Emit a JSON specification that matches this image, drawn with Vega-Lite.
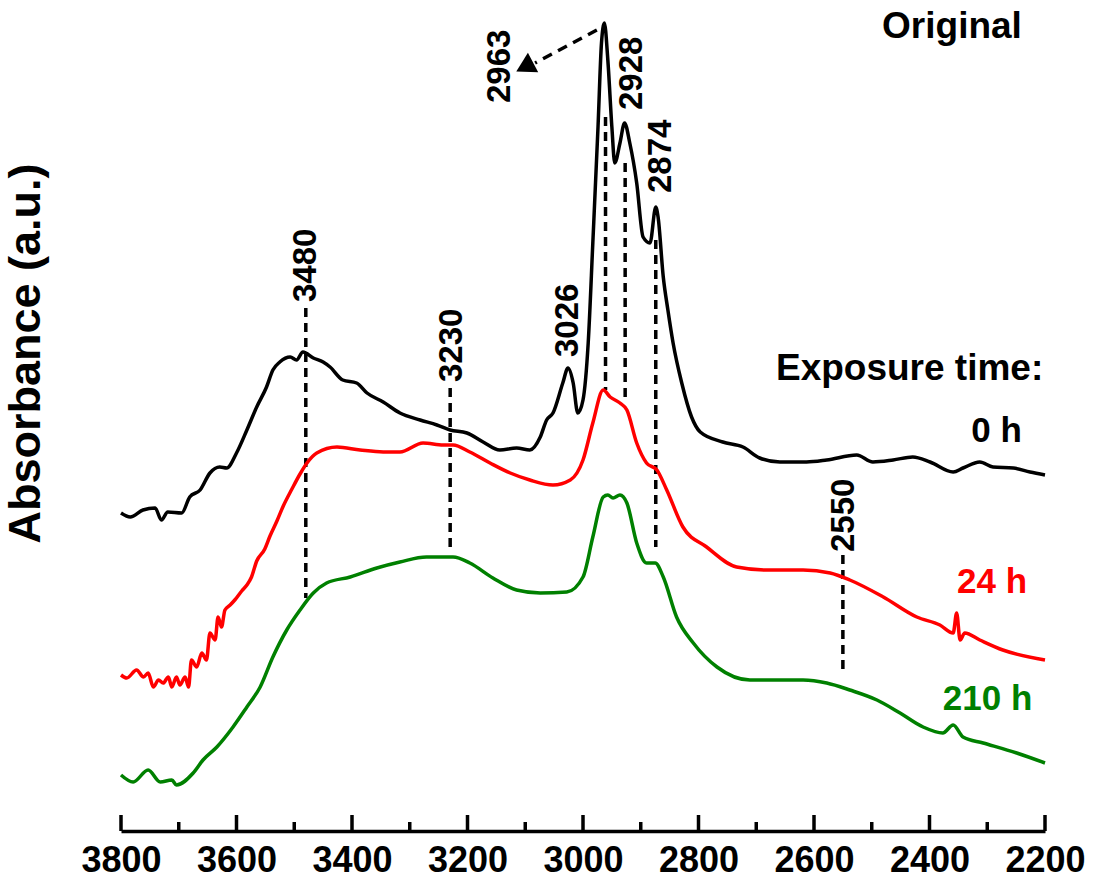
{
  "$schema": "https://vega.github.io/schema/vega-lite/v6.json",
  "width": 924,
  "height": 821,
  "autosize": {"type": "none"},
  "padding": {"left": 121, "right": 56, "top": 10, "bottom": 63},
  "background": "white",
  "config": {"view": {"stroke": null}, "font": "Liberation Sans"},
  "datasets": {
    "spectra": [
      {"series":"0 h","wavenumber":3800,"absorbance":0.318},{"series":"0 h","wavenumber":3784,"absorbance":0.314},{"series":"0 h","wavenumber":3762,"absorbance":0.321},{"series":"0 h","wavenumber":3741,"absorbance":0.323},{"series":"0 h","wavenumber":3730,"absorbance":0.311},{"series":"0 h","wavenumber":3719,"absorbance":0.319},{"series":"0 h","wavenumber":3695,"absorbance":0.318},{"series":"0 h","wavenumber":3681,"absorbance":0.334},{"series":"0 h","wavenumber":3663,"absorbance":0.341},{"series":"0 h","wavenumber":3646,"absorbance":0.358},{"series":"0 h","wavenumber":3629,"absorbance":0.364},{"series":"0 h","wavenumber":3617,"absorbance":0.363},{"series":"0 h","wavenumber":3600,"absorbance":0.378},{"series":"0 h","wavenumber":3582,"absorbance":0.401},{"series":"0 h","wavenumber":3565,"absorbance":0.424},{"series":"0 h","wavenumber":3548,"absorbance":0.444},{"series":"0 h","wavenumber":3537,"absorbance":0.461},{"series":"0 h","wavenumber":3525,"absorbance":0.469},{"series":"0 h","wavenumber":3507,"absorbance":0.474},{"series":"0 h","wavenumber":3496,"absorbance":0.471},{"series":"0 h","wavenumber":3485,"absorbance":0.479},{"series":"0 h","wavenumber":3467,"absorbance":0.473},{"series":"0 h","wavenumber":3450,"absorbance":0.469},{"series":"0 h","wavenumber":3438,"absorbance":0.464},{"series":"0 h","wavenumber":3416,"absorbance":0.451},{"series":"0 h","wavenumber":3392,"absorbance":0.448},{"series":"0 h","wavenumber":3374,"absorbance":0.438},{"series":"0 h","wavenumber":3346,"absorbance":0.429},{"series":"0 h","wavenumber":3317,"absorbance":0.418},{"series":"0 h","wavenumber":3282,"absorbance":0.411},{"series":"0 h","wavenumber":3253,"absorbance":0.406},{"series":"0 h","wavenumber":3230,"absorbance":0.401},{"series":"0 h","wavenumber":3201,"absorbance":0.398},{"series":"0 h","wavenumber":3173,"absorbance":0.389},{"series":"0 h","wavenumber":3144,"absorbance":0.381},{"series":"0 h","wavenumber":3115,"absorbance":0.383},{"series":"0 h","wavenumber":3092,"absorbance":0.381},{"series":"0 h","wavenumber":3074,"absorbance":0.394},{"series":"0 h","wavenumber":3063,"absorbance":0.411},{"series":"0 h","wavenumber":3052,"absorbance":0.418},{"series":"0 h","wavenumber":3035,"absorbance":0.448},{"series":"0 h","wavenumber":3026,"absorbance":0.463},{"series":"0 h","wavenumber":3017,"absorbance":0.448},{"series":"0 h","wavenumber":3009,"absorbance":0.418},{"series":"0 h","wavenumber":3000,"absorbance":0.431},{"series":"0 h","wavenumber":2991,"absorbance":0.488},{"series":"0 h","wavenumber":2983,"absorbance":0.588},{"series":"0 h","wavenumber":2974,"absorbance":0.704},{"series":"0 h","wavenumber":2968,"absorbance":0.788},{"series":"0 h","wavenumber":2963,"absorbance":0.808},{"series":"0 h","wavenumber":2957,"absorbance":0.771},{"series":"0 h","wavenumber":2950,"absorbance":0.704},{"series":"0 h","wavenumber":2945,"absorbance":0.668},{"series":"0 h","wavenumber":2936,"absorbance":0.688},{"series":"0 h","wavenumber":2928,"absorbance":0.708},{"series":"0 h","wavenumber":2919,"absorbance":0.688},{"series":"0 h","wavenumber":2907,"absorbance":0.648},{"series":"0 h","wavenumber":2896,"absorbance":0.594},{"series":"0 h","wavenumber":2884,"absorbance":0.588},{"series":"0 h","wavenumber":2874,"absorbance":0.624},{"series":"0 h","wavenumber":2870,"absorbance":0.614},{"series":"0 h","wavenumber":2861,"absorbance":0.554},{"series":"0 h","wavenumber":2853,"absorbance":0.521},{"series":"0 h","wavenumber":2844,"absorbance":0.488},{"series":"0 h","wavenumber":2829,"absorbance":0.448},{"series":"0 h","wavenumber":2812,"absorbance":0.414},{"series":"0 h","wavenumber":2797,"absorbance":0.399},{"series":"0 h","wavenumber":2758,"absorbance":0.389},{"series":"0 h","wavenumber":2723,"absorbance":0.384},{"series":"0 h","wavenumber":2694,"absorbance":0.373},{"series":"0 h","wavenumber":2659,"absorbance":0.369},{"series":"0 h","wavenumber":2613,"absorbance":0.369},{"series":"0 h","wavenumber":2578,"absorbance":0.371},{"series":"0 h","wavenumber":2526,"absorbance":0.376},{"series":"0 h","wavenumber":2498,"absorbance":0.369},{"series":"0 h","wavenumber":2463,"absorbance":0.371},{"series":"0 h","wavenumber":2429,"absorbance":0.374},{"series":"0 h","wavenumber":2399,"absorbance":0.369},{"series":"0 h","wavenumber":2359,"absorbance":0.359},{"series":"0 h","wavenumber":2342,"absorbance":0.363},{"series":"0 h","wavenumber":2313,"absorbance":0.369},{"series":"0 h","wavenumber":2290,"absorbance":0.364},{"series":"0 h","wavenumber":2255,"absorbance":0.363},{"series":"0 h","wavenumber":2226,"absorbance":0.359},{"series":"0 h","wavenumber":2200,"absorbance":0.356},
      {"series":"24 h","wavenumber":3800,"absorbance":0.156},{"series":"24 h","wavenumber":3790,"absorbance":0.153},{"series":"24 h","wavenumber":3773,"absorbance":0.161},{"series":"24 h","wavenumber":3761,"absorbance":0.154},{"series":"24 h","wavenumber":3753,"absorbance":0.158},{"series":"24 h","wavenumber":3744,"absorbance":0.144},{"series":"24 h","wavenumber":3735,"absorbance":0.151},{"series":"24 h","wavenumber":3727,"absorbance":0.148},{"series":"24 h","wavenumber":3718,"absorbance":0.154},{"series":"24 h","wavenumber":3712,"absorbance":0.144},{"series":"24 h","wavenumber":3704,"absorbance":0.154},{"series":"24 h","wavenumber":3698,"absorbance":0.146},{"series":"24 h","wavenumber":3689,"absorbance":0.154},{"series":"24 h","wavenumber":3683,"absorbance":0.144},{"series":"24 h","wavenumber":3678,"absorbance":0.171},{"series":"24 h","wavenumber":3669,"absorbance":0.164},{"series":"24 h","wavenumber":3660,"absorbance":0.178},{"series":"24 h","wavenumber":3652,"absorbance":0.171},{"series":"24 h","wavenumber":3646,"absorbance":0.198},{"series":"24 h","wavenumber":3637,"absorbance":0.191},{"series":"24 h","wavenumber":3632,"absorbance":0.214},{"series":"24 h","wavenumber":3626,"absorbance":0.204},{"series":"24 h","wavenumber":3620,"absorbance":0.221},{"series":"24 h","wavenumber":3611,"absorbance":0.226},{"series":"24 h","wavenumber":3603,"absorbance":0.231},{"series":"24 h","wavenumber":3591,"absorbance":0.24},{"series":"24 h","wavenumber":3582,"absorbance":0.246},{"series":"24 h","wavenumber":3574,"absorbance":0.254},{"series":"24 h","wavenumber":3565,"absorbance":0.27},{"series":"24 h","wavenumber":3551,"absorbance":0.282},{"series":"24 h","wavenumber":3542,"absorbance":0.295},{"series":"24 h","wavenumber":3530,"absorbance":0.31},{"series":"24 h","wavenumber":3519,"absorbance":0.325},{"series":"24 h","wavenumber":3504,"absorbance":0.342},{"series":"24 h","wavenumber":3490,"absorbance":0.357},{"series":"24 h","wavenumber":3478,"absorbance":0.368},{"series":"24 h","wavenumber":3461,"absorbance":0.378},{"series":"24 h","wavenumber":3426,"absorbance":0.384},{"series":"24 h","wavenumber":3386,"absorbance":0.381},{"series":"24 h","wavenumber":3346,"absorbance":0.379},{"series":"24 h","wavenumber":3317,"absorbance":0.379},{"series":"24 h","wavenumber":3277,"absorbance":0.388},{"series":"24 h","wavenumber":3242,"absorbance":0.386},{"series":"24 h","wavenumber":3225,"absorbance":0.386},{"series":"24 h","wavenumber":3196,"absorbance":0.379},{"series":"24 h","wavenumber":3161,"absorbance":0.368},{"series":"24 h","wavenumber":3126,"absorbance":0.358},{"series":"24 h","wavenumber":3092,"absorbance":0.351},{"series":"24 h","wavenumber":3052,"absorbance":0.346},{"series":"24 h","wavenumber":3022,"absorbance":0.351},{"series":"24 h","wavenumber":3000,"absorbance":0.371},{"series":"24 h","wavenumber":2983,"absorbance":0.408},{"series":"24 h","wavenumber":2965,"absorbance":0.441},{"series":"24 h","wavenumber":2953,"absorbance":0.434},{"series":"24 h","wavenumber":2936,"absorbance":0.428},{"series":"24 h","wavenumber":2924,"absorbance":0.421},{"series":"24 h","wavenumber":2907,"absorbance":0.388},{"series":"24 h","wavenumber":2890,"absorbance":0.368},{"series":"24 h","wavenumber":2872,"absorbance":0.361},{"series":"24 h","wavenumber":2855,"absorbance":0.341},{"series":"24 h","wavenumber":2827,"absorbance":0.304},{"series":"24 h","wavenumber":2786,"absorbance":0.284},{"series":"24 h","wavenumber":2734,"absorbance":0.264},{"series":"24 h","wavenumber":2682,"absorbance":0.261},{"series":"24 h","wavenumber":2619,"absorbance":0.261},{"series":"24 h","wavenumber":2572,"absorbance":0.258},{"series":"24 h","wavenumber":2538,"absorbance":0.251},{"series":"24 h","wavenumber":2480,"absorbance":0.234},{"series":"24 h","wavenumber":2422,"absorbance":0.214},{"series":"24 h","wavenumber":2382,"absorbance":0.206},{"series":"24 h","wavenumber":2359,"absorbance":0.198},{"series":"24 h","wavenumber":2353,"absorbance":0.218},{"series":"24 h","wavenumber":2347,"absorbance":0.191},{"series":"24 h","wavenumber":2339,"absorbance":0.198},{"series":"24 h","wavenumber":2313,"absorbance":0.191},{"series":"24 h","wavenumber":2273,"absorbance":0.181},{"series":"24 h","wavenumber":2200,"absorbance":0.171},
      {"series":"210 h","wavenumber":3800,"absorbance":0.056},{"series":"210 h","wavenumber":3779,"absorbance":0.049},{"series":"210 h","wavenumber":3753,"absorbance":0.061},{"series":"210 h","wavenumber":3732,"absorbance":0.049},{"series":"210 h","wavenumber":3712,"absorbance":0.051},{"series":"210 h","wavenumber":3704,"absorbance":0.046},{"series":"210 h","wavenumber":3675,"absorbance":0.058},{"series":"210 h","wavenumber":3658,"absorbance":0.071},{"series":"210 h","wavenumber":3634,"absorbance":0.084},{"series":"210 h","wavenumber":3606,"absorbance":0.104},{"series":"210 h","wavenumber":3582,"absorbance":0.124},{"series":"210 h","wavenumber":3559,"absorbance":0.144},{"series":"210 h","wavenumber":3537,"absorbance":0.174},{"series":"210 h","wavenumber":3513,"absorbance":0.201},{"series":"210 h","wavenumber":3490,"absorbance":0.221},{"series":"210 h","wavenumber":3467,"absorbance":0.238},{"series":"210 h","wavenumber":3444,"absorbance":0.248},{"series":"210 h","wavenumber":3403,"absorbance":0.254},{"series":"210 h","wavenumber":3357,"absorbance":0.263},{"series":"210 h","wavenumber":3317,"absorbance":0.269},{"series":"210 h","wavenumber":3271,"absorbance":0.274},{"series":"210 h","wavenumber":3225,"absorbance":0.274},{"series":"210 h","wavenumber":3196,"absorbance":0.268},{"series":"210 h","wavenumber":3156,"absorbance":0.253},{"series":"210 h","wavenumber":3115,"absorbance":0.241},{"series":"210 h","wavenumber":3074,"absorbance":0.238},{"series":"210 h","wavenumber":3028,"absorbance":0.239},{"series":"210 h","wavenumber":3000,"absorbance":0.254},{"series":"210 h","wavenumber":2983,"absorbance":0.294},{"series":"210 h","wavenumber":2965,"absorbance":0.334},{"series":"210 h","wavenumber":2957,"absorbance":0.336},{"series":"210 h","wavenumber":2948,"absorbance":0.333},{"series":"210 h","wavenumber":2936,"absorbance":0.336},{"series":"210 h","wavenumber":2924,"absorbance":0.328},{"series":"210 h","wavenumber":2907,"absorbance":0.288},{"series":"210 h","wavenumber":2890,"absorbance":0.268},{"series":"210 h","wavenumber":2875,"absorbance":0.268},{"series":"210 h","wavenumber":2861,"absorbance":0.254},{"series":"210 h","wavenumber":2838,"absorbance":0.214},{"series":"210 h","wavenumber":2809,"absorbance":0.188},{"series":"210 h","wavenumber":2768,"absorbance":0.164},{"series":"210 h","wavenumber":2711,"absorbance":0.151},{"series":"210 h","wavenumber":2654,"absorbance":0.151},{"series":"210 h","wavenumber":2619,"absorbance":0.151},{"series":"210 h","wavenumber":2578,"absorbance":0.148},{"series":"210 h","wavenumber":2538,"absorbance":0.141},{"series":"210 h","wavenumber":2491,"absorbance":0.131},{"series":"210 h","wavenumber":2451,"absorbance":0.118},{"series":"210 h","wavenumber":2411,"absorbance":0.104},{"series":"210 h","wavenumber":2377,"absorbance":0.098},{"series":"210 h","wavenumber":2359,"absorbance":0.106},{"series":"210 h","wavenumber":2342,"absorbance":0.094},{"series":"210 h","wavenumber":2307,"absorbance":0.088},{"series":"210 h","wavenumber":2249,"absorbance":0.078},{"series":"210 h","wavenumber":2200,"absorbance":0.068}
    ],
    "guides": [
      {"wavenumber":3480,"absorbance":0.523,"absorbance2":0.233},
      {"wavenumber":3230,"absorbance":0.443,"absorbance2":0.283},
      {"wavenumber":2961,"absorbance":0.714,"absorbance2":0.441},
      {"wavenumber":2927,"absorbance":0.668,"absorbance2":0.434},
      {"wavenumber":2874,"absorbance":0.591,"absorbance2":0.284},
      {"wavenumber":2550,"absorbance":0.276,"absorbance2":0.159}
    ],
    "arrow": [{"wavenumber":2976,"absorbance":0.801,"wavenumber2":3083,"absorbance2":0.768}],
    "arrowhead": [{"wavenumber":3101,"absorbance":0.764}],
    "peaks": [
      {"wavenumber":3480,"absorbance":0.529,"label":"3480"},
      {"wavenumber":3226,"absorbance":0.449,"label":"3230"},
      {"wavenumber":3026,"absorbance":0.474,"label":"3026"},
      {"wavenumber":3144,"absorbance":0.728,"label":"2963"},
      {"wavenumber":2915,"absorbance":0.721,"label":"2928"},
      {"wavenumber":2865,"absorbance":0.638,"label":"2874"},
      {"wavenumber":2548,"absorbance":0.279,"label":"2550"}
    ],
    "serieslabels": [
      {"wavenumber":2240,"absorbance":0.389,"label":"0 h","series":"0 h"},
      {"wavenumber":2231,"absorbance":0.238,"label":"24 h","series":"24 h"},
      {"wavenumber":2222,"absorbance":0.121,"label":"210 h","series":"210 h"}
    ],
    "notes": [
      {"wavenumber":2203,"absorbance":0.451,"label":"Exposure time:"},
      {"wavenumber":2240,"absorbance":0.793,"label":"Original"}
    ],
    "majorticks": [{"wavenumber":3800,"absorbance":0},{"wavenumber":3600,"absorbance":0},{"wavenumber":3400,"absorbance":0},{"wavenumber":3200,"absorbance":0},{"wavenumber":3000,"absorbance":0},{"wavenumber":2800,"absorbance":0},{"wavenumber":2600,"absorbance":0},{"wavenumber":2400,"absorbance":0},{"wavenumber":2200,"absorbance":0}],
    "minorticks": [{"wavenumber":3700,"absorbance":0},{"wavenumber":3500,"absorbance":0},{"wavenumber":3300,"absorbance":0},{"wavenumber":3100,"absorbance":0},{"wavenumber":2900,"absorbance":0},{"wavenumber":2700,"absorbance":0},{"wavenumber":2500,"absorbance":0},{"wavenumber":2300,"absorbance":0}]
  },
  "encoding": {
    "x": {
      "field": "wavenumber", "type": "quantitative",
      "scale": {"domain": [2200, 3800], "reverse": true, "nice": false, "zero": false},
      "axis": {
        "title": null,
        "values": [2200,2400,2600,2800,3000,3200,3400,3600,3800],
        "format": "d", "grid": false,
        "domain": true, "domainColor": "black", "domainWidth": 3.5,
        "ticks": false,
        "labelFontSize": 36, "labelFont": "Liberation Sans", "labelFontWeight": "bold", "labelColor": "black",
        "labelPadding": 12, "labelFlush": false, "labelOverlap": false, "labelBound": false
      }
    },
    "y": {
      "field": "absorbance", "type": "quantitative",
      "scale": {"domain": [0, 0.821], "nice": false, "zero": false},
      "axis": {
        "title": "Absorbance (a.u.)", "domain": false, "ticks": false, "labels": false, "grid": false,
        "titleFontSize": 45, "titleFont": "Liberation Sans", "titleFontWeight": "bold", "titleColor": "black",
        "titleX": -96, "titleY": 343, "titleAngle": 270, "titleAlign": "center", "titleBaseline": "middle"
      }
    }
  },
  "layer": [
    {
      "data": {"name": "majorticks"},
      "mark": {"type": "rule", "strokeWidth": 3.5, "color": "black"},
      "encoding": {"y2": {"datum": 0.016}}
    },
    {
      "data": {"name": "minorticks"},
      "mark": {"type": "rule", "strokeWidth": 3.5, "color": "black"},
      "encoding": {"y2": {"datum": 0.009}}
    },
    {
      "data": {"name": "guides"},
      "mark": {"type": "rule", "strokeDash": [9, 6], "strokeWidth": 3.5, "color": "black"},
      "encoding": {"y2": {"field": "absorbance2"}}
    },
    {
      "data": {"name": "spectra"},
      "mark": {"type": "line", "strokeWidth": 3.5, "strokeJoin": "round", "interpolate": "monotone"},
      "encoding": {
        "color": {"field": "series", "type": "nominal", "scale": {"domain": ["0 h", "24 h", "210 h"], "range": ["#000000", "#ff0000", "#008000"]}, "legend": null}
      }
    },
    {
      "data": {"name": "arrow"},
      "mark": {"type": "rule", "strokeDash": [10, 7], "strokeWidth": 3.5, "color": "black"},
      "encoding": {"x2": {"field": "wavenumber2"}, "y2": {"field": "absorbance2"}}
    },
    {
      "data": {"name": "arrowhead"},
      "mark": {"type": "point", "shape": "triangle-up", "filled": true, "color": "black", "opacity": 1, "size": 480, "angle": 242},
      "encoding": {}
    },
    {
      "data": {"name": "peaks"},
      "mark": {"type": "text", "angle": 270, "align": "left", "baseline": "middle", "fontSize": 33, "fontWeight": "bold", "font": "Liberation Sans", "color": "black"},
      "encoding": {"text": {"field": "label"}}
    },
    {
      "data": {"name": "serieslabels"},
      "mark": {"type": "text", "align": "right", "baseline": "alphabetic", "fontSize": 35, "fontWeight": "bold", "font": "Liberation Sans"},
      "encoding": {
        "text": {"field": "label"},
        "color": {"field": "series", "type": "nominal", "scale": {"domain": ["0 h", "24 h", "210 h"], "range": ["#000000", "#ff0000", "#008000"]}, "legend": null}
      }
    },
    {
      "data": {"name": "notes"},
      "mark": {"type": "text", "align": "right", "baseline": "alphabetic", "fontSize": 37, "fontWeight": "bold", "font": "Liberation Sans", "color": "black"},
      "encoding": {"text": {"field": "label"}}
    }
  ]
}
